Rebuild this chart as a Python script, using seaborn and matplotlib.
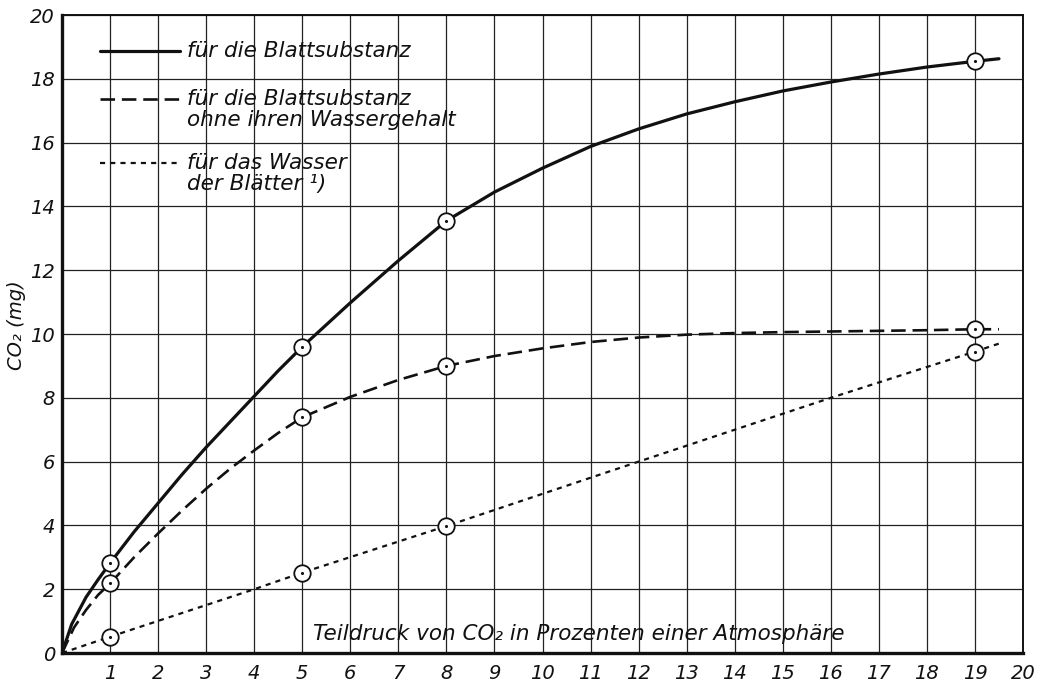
import matplotlib
matplotlib.use("Agg")
import matplotlib.pyplot as plt
import seaborn as sns
import pandas as pd
from matplotlib.lines import Line2D

# ---- data ----
x_meas = [1, 5, 8, 19]
blatt_meas = [2.82, 9.6, 13.55, 18.55]
trocken_meas = [2.18, 7.39, 9.0, 10.15]
wasser_meas = [0.51, 2.52, 3.98, 9.45]

blatt_cx = [0, 0.2, 0.5, 0.75, 1, 1.5, 2, 2.5, 3, 3.5, 4, 4.5, 5, 6, 7, 8, 9, 10, 11, 12,
            13, 14, 15, 16, 17, 18, 19, 19.5]
blatt_cy = [0, 0.9, 1.75, 2.3, 2.82, 3.8, 4.7, 5.6, 6.45, 7.25, 8.05, 8.85, 9.6, 10.98, 12.3,
            13.55, 14.45, 15.2, 15.88, 16.43, 16.9, 17.28, 17.62, 17.9, 18.15, 18.37, 18.55, 18.63]

trocken_cx = [0, 0.25, 0.5, 0.75, 1, 1.5, 2, 2.5, 3, 3.5, 4, 4.5, 5, 6, 7, 8, 9, 10, 11, 12,
              13, 14, 15, 16, 17, 18, 19, 19.5]
trocken_cy = [0, 0.8, 1.35, 1.82, 2.18, 3.0, 3.75, 4.47, 5.15, 5.78, 6.35, 6.9, 7.39, 8.03, 8.56,
              9.0, 9.31, 9.55, 9.75, 9.89, 9.98, 10.03, 10.06, 10.08, 10.1, 10.12, 10.15, 10.15]

wasser_cx = [0, 1, 4, 5, 8, 12, 16, 19, 19.5]
wasser_cy = [0, 0.51, 2.0, 2.52, 3.98, 6.0, 8.0, 9.45, 9.7]

x_ticks = list(range(1, 21))
y_ticks = list(range(0, 21, 2))

legend_labels = ["für die Blattsubstanz",
                 "für die Blattsubstanz\nohne ihren Wassergehalt",
                 "für das Wasser\nder Blätter ¹)"]
x_label = "Teildruck von CO₂ in Prozenten einer Atmosphäre"
y_label = "CO₂ (mg)"

# ---- plotting ----
sns.set_theme(style="white")
plt.rcParams['font.family'] = ['DejaVu Sans']
plt.rcParams['font.style'] = 'italic'

fig = plt.figure(figsize=(10.39, 6.84), dpi=100)
ax = fig.add_axes([0.0597, 0.0453, 0.9249, 0.9327])

ink = "#111111"

styles = [
    dict(lw=2.3, ls="-"),
    dict(lw=1.9, ls=(0, (5.5, 2.6))),
    dict(lw=1.6, ls=(0, (2.3, 2.3))),
]

curves = [(blatt_cx, blatt_cy), (trocken_cx, trocken_cy), (wasser_cx, wasser_cy)]
for (cx, cy), st in zip(curves, styles):
    df = pd.DataFrame({"x": cx, "y": cy})
    sns.lineplot(data=df, x="x", y="y", ax=ax, color=ink, sort=True,
                 linewidth=st["lw"], linestyle=st["ls"], zorder=3)

meas = pd.DataFrame({
    "x": x_meas * 3,
    "y": blatt_meas + trocken_meas + wasser_meas,
})
sns.scatterplot(data=meas, x="x", y="y", ax=ax, marker="o", s=140,
                facecolor="white", edgecolor=ink, linewidth=1.3, zorder=4)
sns.scatterplot(data=meas, x="x", y="y", ax=ax, marker="o", s=5,
                color=ink, linewidth=0, zorder=5)

ax.set_xlim(0, 20)
ax.set_ylim(0, 20)
ax.set_xticks(x_ticks)
ax.set_xticklabels([str(v) for v in x_ticks])
ax.set_yticks(y_ticks)
ax.set_yticklabels([str(v) for v in y_ticks])
ax.tick_params(axis="both", length=0, labelsize=14, colors=ink)
ax.tick_params(axis="x", pad=8)
ax.tick_params(axis="y", pad=5)
for lab in ax.get_xticklabels() + ax.get_yticklabels():
    lab.set_fontstyle("italic")

ax.grid(True, color="#222222", linewidth=0.9)
ax.set_axisbelow(True)

for side in ["left", "bottom"]:
    ax.spines[side].set_linewidth(2.4)
    ax.spines[side].set_color(ink)
for side in ["top", "right"]:
    ax.spines[side].set_linewidth(1.4)
    ax.spines[side].set_color(ink)

ax.set_xlabel("")
ax.set_ylabel("")
ax.text(10.75, 0.6, x_label, fontsize=15.5, style="italic", ha="center", va="center",
        color=ink, zorder=6)
fig.text(0.016, 0.525, y_label, fontsize=14, style="italic", rotation=90,
         ha="center", va="center", color=ink)

# legend drawn in axes-fraction coordinates
leg_y = [0.9436, 0.868, 0.768]
for lab, st, yy in zip(legend_labels, styles, leg_y):
    ax.add_line(Line2D([0.040, 0.123], [yy, yy], transform=ax.transAxes,
                       color=ink, linewidth=st["lw"], linestyle=st["ls"], zorder=6))
    ax.text(0.130, yy + 0.016, lab, transform=ax.transAxes, fontsize=15.5,
            style="italic", ha="left", va="top", color=ink, linespacing=1.05,
            zorder=6)

fig.savefig("out.png", dpi=100)
